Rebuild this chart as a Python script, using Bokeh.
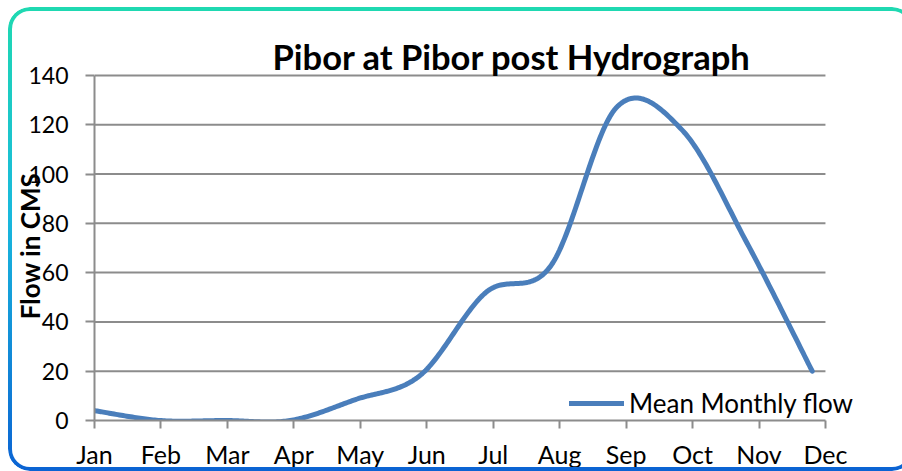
import numpy as np
from bokeh.plotting import figure
from bokeh.models import (Range1d, LinearAxis, FixedTicker, Legend, LegendItem,
                          InlineStyleSheet)
from bokeh.embed import file_html
from bokeh.resources import INLINE

# ---- data ----
months = ["Jan", "Feb", "Mar", "Apr", "May", "Jun", "Jul", "Aug", "Sep", "Oct", "Nov", "Dec"]
flow = [4, 0, 0, 0, 8.5, 18.5, 52, 63, 127, 118, 72, 20]
y_ticks = [0, 20, 40, 60, 80, 100, 120, 140]
title_text = "Pibor at Pibor post Hydrograph"
y_label = "Flow in CMS"
series_name = "Mean Monthly flow"

FONT = "Lato"
GRAY = "#8c8c8c"

# ---- layout constants (pixels) ----
W, H = 902, 471
FRAME_L, FRAME_R, FRAME_T, FRAME_B = 94, 872, 71, 420
AXIS_STEP_PX = 66.45      # spacing of the month ticks
LINE_STEP_PX = 65.25      # spacing of the plotted points
Y_PX_PER_UNIT = 2.465


def excel_smooth(xs, ys, steps=40):
    xs = np.asarray(xs, dtype=float)
    ys = np.asarray(ys, dtype=float)
    n = len(xs)
    ox, oy = [], []
    for i in range(n - 1):
        a = i - 1 if i > 0 else i
        d = i + 2 if i + 2 < n else i + 1
        c1x = xs[i] + (xs[i + 1] - xs[a]) / 6.0
        c1y = ys[i] + (ys[i + 1] - ys[a]) / 6.0
        c2x = xs[i + 1] - (xs[d] - xs[i]) / 6.0
        c2y = ys[i + 1] - (ys[d] - ys[i]) / 6.0
        t = np.linspace(0, 1, steps, endpoint=(i == n - 2))
        u = 1 - t
        ox.extend(u**3 * xs[i] + 3 * u**2 * t * c1x + 3 * u * t**2 * c2x + t**3 * xs[i + 1])
        oy.extend(u**3 * ys[i] + 3 * u**2 * t * c1y + 3 * u * t**2 * c2y + t**3 * ys[i + 1])
    return ox, oy


idx = list(range(len(months)))
frame_w = FRAME_R - FRAME_L
frame_h = FRAME_B - FRAME_T

p = figure(width=W, height=H,
           x_range=Range1d(0, frame_w / LINE_STEP_PX),
           y_range=Range1d(0, frame_h / Y_PX_PER_UNIT),
           x_axis_type=None,
           output_backend="svg", toolbar_location=None,
           min_border_left=FRAME_L, min_border_right=W - FRAME_R,
           min_border_top=FRAME_T, min_border_bottom=H - FRAME_B,
           border_fill_color="white", background_fill_color=None,
           outline_line_color=None)

ring_css = """
:host { position: relative; overflow: hidden; }
:host::after {
  content: "";
  position: absolute;
  left: 8px; top: 7px; right: -12px; bottom: 0px;
  border-radius: 22px;
  padding: 4px;
  background: linear-gradient(180deg, #1fd9b1 0%, #19b9dd 45%, #0b63d3 100%);
  -webkit-mask: linear-gradient(#000 0 0) content-box, linear-gradient(#000 0 0);
  -webkit-mask-composite: xor;
  mask-composite: exclude;
  pointer-events: none;
  z-index: 10;
}
"""
p.stylesheets = [InlineStyleSheet(css=ring_css)]

p.extra_x_ranges = {"months": Range1d(0, frame_w / AXIS_STEP_PX)}
xa = LinearAxis(x_range_name="months",
                ticker=FixedTicker(ticks=idx),
                bounds=(0, len(months) - 1),
                major_label_overrides={i: m for i, m in enumerate(months)})
p.add_layout(xa, "below")

ya = p.yaxis[0]
for ax in [xa, ya]:
    ax.axis_line_color = GRAY
    ax.axis_line_width = 2
    ax.major_tick_line_color = GRAY
    ax.major_tick_line_width = 2
    ax.major_tick_in = 0
    ax.minor_tick_line_color = None
    ax.major_label_text_font = FONT
    ax.major_label_text_color = "black"

xa.major_label_text_font_size = "25px"
xa.major_tick_out = 8
xa.major_label_standoff = 10

ya.major_label_text_font_size = "23px"
ya.ticker = FixedTicker(ticks=y_ticks)
ya.bounds = (y_ticks[0], y_ticks[-1])
ya.major_tick_out = 9
ya.major_label_standoff = 17
ya.axis_label = y_label
ya.axis_label_text_font = FONT
ya.axis_label_text_font_style = "bold"
ya.axis_label_text_font_size = "26px"
ya.axis_label_text_color = "black"
ya.axis_label_standoff = -21

p.xgrid.visible = False
p.ygrid.visible = False

# horizontal gridlines, only across the month span
gy = y_ticks[1:]
p.segment(x0=[idx[0]] * len(gy), x1=[idx[-1]] * len(gy), y0=gy, y1=gy,
          x_range_name="months", line_color=GRAY, line_width=2)

sx, sy = excel_smooth(idx, flow)
r = p.line(sx, sy, line_color="#4a7ebb", line_width=5, line_cap="round", line_join="round")

legend = Legend(items=[LegendItem(label=series_name, renderers=[r])],
                location=(475, 1), orientation="vertical",
                border_line_color=None, background_fill_alpha=0,
                glyph_width=55, glyph_height=20, label_standoff=5,
                padding=0, margin=0, spacing=0,
                label_text_font=FONT, label_text_font_size="26px",
                label_text_color="black")
p.add_layout(legend, "center")

p.title.text = title_text
p.title.text_font = FONT
p.title.text_font_style = "bold"
p.title.text_font_size = "34.5px"
p.title.text_color = "black"
p.title.align = "left"
p.title.offset = 178
p.title.standoff = -11

open("out.html", "w").write(file_html(p, INLINE))
